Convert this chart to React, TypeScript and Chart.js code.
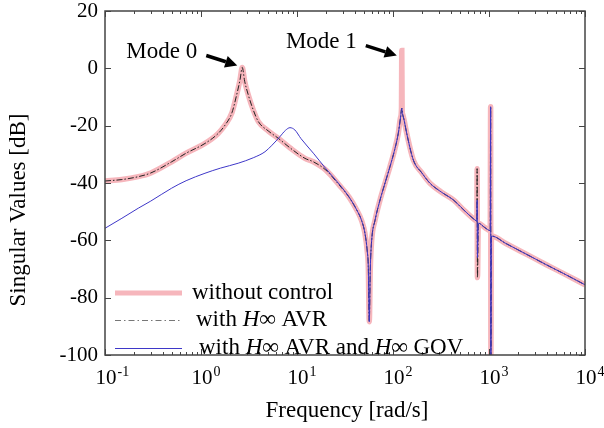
import React, { useEffect, useRef } from "react";
import { Chart, registerables } from "chart.js";

Chart.register(...registerables);

// Frequency [rad/s] and singular values [dB]
const freqNoCtrl = [0.1, 0.15, 0.222, 0.3, 0.495, 0.7, 1.1, 1.5, 1.78, 2.1, 2.35, 2.55, 2.69, 2.85, 3.11, 3.5, 3.96, 5, 6.38, 8.5, 12.1, 14.8, 20, 28, 35, 41.9, 47, 51, 54, 55.3, 56.6, 58, 60, 65, 73.3, 83, 93, 103, 113.5, 120, 122.5, 123.5, 124.5, 126, 130, 139, 163, 200, 243, 320, 425, 550, 714, 748, 752, 758, 775, 900, 1030, 1040, 1046, 1060, 1500, 2500, 4000, 6000, 10000];
const valNoCtrl = [-39.3, -38.8, -37.8, -36.5, -32.6, -29.6, -26.2, -22.8, -19.8, -15.5, -9.3, -4, 0.3, -4.5, -9.3, -14.5, -18.6, -21.8, -24.4, -27.8, -31.4, -32.6, -35.5, -41, -45, -49.4, -53, -57.5, -64, -69.2, -88.4, -70, -59.9, -53, -45.9, -39.8, -34.3, -29, -22.7, -17, -14, 6.2, -14, -16, -17.8, -22.7, -32, -36.5, -40.1, -43.2, -45.9, -49.5, -52.9, -53.3, -35, -73, -54, -55.5, -56.6, -13.4, -100, -58.5, -61.1, -65, -68.6, -71.6, -75.5];

const freqAvr = [0.1, 0.15, 0.222, 0.3, 0.495, 0.7, 1.1, 1.5, 1.78, 2.1, 2.35, 2.55, 2.69, 2.85, 3.11, 3.5, 3.96, 5, 6.38, 8.5, 12.1, 14.8, 20, 28, 35, 41.9, 47, 51, 54, 55.3, 56.6, 58, 60, 65, 73.3, 83, 93, 103, 113.5, 120, 123.5, 126, 130, 139, 163, 200, 243, 320, 425, 550, 714, 748, 752, 758, 775, 900, 1030, 1040, 1046, 1060, 1500, 2500, 4000, 6000, 10000];
const valAvr = [-39.3, -38.8, -37.8, -36.5, -32.6, -29.6, -26.2, -22.8, -19.8, -15.5, -9.3, -4, 0.3, -4.5, -9.3, -14.5, -18.6, -21.8, -24.4, -27.8, -31.4, -32.6, -35.5, -41, -45, -49.4, -53, -57.5, -64, -69.2, -88.4, -70, -59.9, -53, -45.9, -39.8, -34.3, -29, -22.7, -17, -13.9, -16, -17.8, -22.7, -32, -36.5, -40.1, -43.2, -45.9, -49.5, -52.9, -53.3, -35, -73, -54, -55.5, -56.6, -13.4, -100, -58.5, -61.1, -65, -68.6, -71.6, -75.5];

const freqAvrGov = [0.1, 0.15, 0.222, 0.3, 0.495, 0.7, 1.1, 1.6, 2.44, 3.5, 4.64, 5.5, 6.65, 7.6, 8.45, 9.5, 11, 14.8, 20, 28, 35, 41.9, 47, 51, 54, 55.3, 56.6, 58, 60, 65, 73.3, 83, 93, 103, 113.5, 120, 123.5, 126, 130, 139, 163, 200, 243, 320, 425, 550, 714, 748, 752, 758, 775, 900, 1030, 1040, 1046, 1060, 1500, 2500, 4000, 6000, 10000];
const valAvrGov = [-55.8, -52.3, -48.8, -46.3, -41.8, -39.2, -36.6, -34.8, -33.1, -31.2, -29.1, -26.8, -23.8, -21.6, -20.7, -21.5, -24.5, -29.6, -35, -40.7, -45, -49.4, -53, -57.5, -64, -69.2, -88.4, -70, -59.9, -53, -45.9, -39.8, -34.3, -29, -22.7, -17, -13.9, -16, -17.8, -22.7, -32, -36.5, -40.1, -43.2, -45.9, -49.5, -52.9, -53.3, -46, -66, -54, -55.5, -56.6, -13.4, -100, -58.5, -61.1, -65, -68.6, -71.6, -75.5];

const seriesNames = ["without control", "with H\u221E AVR", "with H\u221E AVR and H\u221E GOV"];
const yTicks = [20, 0, -20, -40, -60, -80, -100];
const xDecades = [-1, 0, 1, 2, 3, 4];
const annotations = [
  { text: "Mode 0", f: 2.69, v: 0.3, dy: -2 },
  { text: "Mode 1", f: 123.5, v: 6.2, dy: 5 },
];

const SERIF = '"Liberation Serif", "Times New Roman", serif';
const RED = "rgba(246,182,188,1)";
const BLUE = "rgb(62,55,200)";
const TEXT_PX = 23;
const TICK_PX = 21;

function pts(f: number[], v: number[]) {
  return f.map((x, i) => ({ x, y: v[i] }));
}

function drawArrow(ctx: CanvasRenderingContext2D, x1: number, y1: number, x2: number, y2: number) {
  const ang = Math.atan2(y2 - y1, x2 - x1);
  const hl = 12;
  const hw = 6;
  const bx = x2 - hl * Math.cos(ang);
  const by = y2 - hl * Math.sin(ang);
  ctx.save();
  ctx.strokeStyle = "#000";
  ctx.fillStyle = "#000";
  ctx.lineWidth = 3.5;
  ctx.beginPath();
  ctx.moveTo(x1, y1);
  ctx.lineTo(bx, by);
  ctx.stroke();
  ctx.beginPath();
  ctx.moveTo(x2, y2);
  ctx.lineTo(bx + hw * Math.sin(ang), by - hw * Math.cos(ang));
  ctx.lineTo(bx - hw * Math.sin(ang), by + hw * Math.cos(ang));
  ctx.closePath();
  ctx.fill();
  ctx.restore();
}

function drawRich(ctx: CanvasRenderingContext2D, label: string, x: number, y: number) {
  const parts = label.split(/(H\u221E)/);
  let cx = x;
  parts.forEach((p) => {
    if (!p) return;
    ctx.font = (p === "H\u221E" ? "italic " : "") + TEXT_PX + "px " + SERIF;
    ctx.fillText(p, cx, y);
    cx += ctx.measureText(p).width;
  });
}

const framePlugin = {
  id: "frame",
  afterDraw(chart: any) {
    const { ctx, chartArea: a, scales } = chart;
    const xs = scales.x;
    const ys = scales.y;
    ctx.save();
    // border
    ctx.strokeStyle = "#444";
    ctx.lineWidth = 1.5;
    ctx.strokeRect(a.left, a.top, a.right - a.left, a.bottom - a.top);
    // x ticks
    ctx.lineWidth = 1;
    xDecades.forEach((d) => {
      for (let k = 1; k <= 9; k++) {
        const val = k * Math.pow(10, d);
        if (val > 10000 + 1e-9) break;
        const px = Math.round(xs.getPixelForValue(val)) + 0.5;
        const len = k === 1 ? 6 : 3;
        ctx.beginPath();
        ctx.moveTo(px, a.bottom);
        ctx.lineTo(px, a.bottom - len);
        ctx.moveTo(px, a.top);
        ctx.lineTo(px, a.top + len);
        ctx.stroke();
      }
    });
    // y ticks
    yTicks.forEach((v) => {
      const py = Math.round(ys.getPixelForValue(v)) + 0.5;
      ctx.beginPath();
      ctx.moveTo(a.left, py);
      ctx.lineTo(a.left + 6, py);
      ctx.moveTo(a.right, py);
      ctx.lineTo(a.right - 6, py);
      ctx.stroke();
    });
    // y labels
    ctx.fillStyle = "#000";
    ctx.font = TICK_PX + "px " + SERIF;
    ctx.textAlign = "right";
    ctx.textBaseline = "middle";
    yTicks.forEach((v) => {
      ctx.fillText(String(v), a.left - 7, ys.getPixelForValue(v));
    });
    // x labels 10^d
    ctx.textBaseline = "alphabetic";
    xDecades.forEach((d) => {
      const px = xs.getPixelForValue(Math.pow(10, d));
      ctx.font = TICK_PX + "px " + SERIF;
      ctx.textAlign = "center";
      const w = ctx.measureText("10").width;
      ctx.fillText("10", px + 1, a.bottom + 29);
      ctx.font = "14px " + SERIF;
      ctx.textAlign = "left";
      ctx.fillText(String(d), px + 1 + w / 2 + 1, a.bottom + 21);
    });
    // axis titles
    ctx.font = TEXT_PX + "px " + SERIF;
    ctx.textAlign = "center";
    ctx.fillText("Frequency [rad/s]", (a.left + a.right) / 2 + 2, a.bottom + 62);
    ctx.save();
    ctx.translate(25, (a.top + a.bottom) / 2 + 27);
    ctx.rotate(-Math.PI / 2);
    ctx.textBaseline = "alphabetic";
    ctx.fillText("Singular Values [dB]", 0, 0);
    ctx.restore();
    // annotations
    annotations.forEach((an) => {
      const px = xs.getPixelForValue(an.f);
      const py = ys.getPixelForValue(an.v);
      const hx = px - 5;
      const hy = py + an.dy;
      drawArrow(ctx, hx - 31, hy - 10, hx, hy);
      ctx.font = TEXT_PX + "px " + SERIF;
      ctx.textAlign = "right";
      ctx.textBaseline = "middle";
      ctx.fillText(an.text, hx - 40, hy - 14);
    });
    // legend
    const rows = [
      { y: a.bottom - 62, tx: 192 },
      { y: a.bottom - 35, tx: 196 },
      { y: a.bottom - 7, tx: 199 },
    ];
    const lx0 = a.left + 10;
    const lx1 = a.left + 77;
    ctx.lineCap = "butt";
    ctx.strokeStyle = RED;
    ctx.lineWidth = 5;
    ctx.beginPath();
    ctx.moveTo(lx0, rows[0].y);
    ctx.lineTo(lx1, rows[0].y);
    ctx.stroke();
    ctx.strokeStyle = "#777";
    ctx.lineWidth = 1;
    ctx.setLineDash([6, 3, 1.5, 3]);
    ctx.beginPath();
    ctx.moveTo(lx0, rows[1].y + 0.5);
    ctx.lineTo(lx1, rows[1].y + 0.5);
    ctx.stroke();
    ctx.setLineDash([]);
    ctx.strokeStyle = BLUE;
    ctx.beginPath();
    ctx.moveTo(lx0, rows[2].y + 0.5);
    ctx.lineTo(lx1, rows[2].y + 0.5);
    ctx.stroke();
    ctx.fillStyle = "#000";
    ctx.textAlign = "left";
    ctx.textBaseline = "middle";
    seriesNames.forEach((n, i) => drawRich(ctx, n, rows[i].tx, rows[i].y));
    ctx.restore();
  },
};

export default function App() {
  const ref = useRef<HTMLCanvasElement | null>(null);
  useEffect(() => {
    if (!ref.current) return;
    const chart = new Chart(ref.current, {
      type: "line",
      data: {
        datasets: [
          {
            label: seriesNames[0],
            data: pts(freqNoCtrl, valNoCtrl),
            borderColor: RED,
            borderWidth: 5.5,
            pointRadius: 0,
            order: 3,
            clip: 0,
            cubicInterpolationMode: "monotone",
          },
          {
            label: seriesNames[1],
            data: pts(freqAvr, valAvr),
            borderColor: "#222",
            borderWidth: 1,
            borderDash: [6, 2, 1.5, 2],
            pointRadius: 0,
            order: 2,
            clip: 0,
            cubicInterpolationMode: "monotone",
          },
          {
            label: seriesNames[2],
            data: pts(freqAvrGov, valAvrGov),
            borderColor: BLUE,
            borderWidth: 1,
            pointRadius: 0,
            order: 1,
            clip: 0,
            cubicInterpolationMode: "monotone",
          },
        ],
      },
      options: {
        animation: false,
        responsive: false,
        devicePixelRatio: 1,
        layout: { padding: { left: 105, right: 19, top: 11, bottom: 73 } },
        plugins: { legend: { display: false }, tooltip: { enabled: false } },
        scales: {
          x: { type: "logarithmic", min: 0.1, max: 10000, display: false },
          y: { type: "linear", min: -100, max: 20, display: false },
        },
      },
      plugins: [framePlugin],
    } as any);
    return () => chart.destroy();
  }, []);
  return (
    <div style={{ position: "fixed", left: 0, top: 0, width: 604, height: 428, background: "#fff" }}>
      <canvas ref={ref} width={604} height={428} style={{ display: "block" }} />
    </div>
  );
}
